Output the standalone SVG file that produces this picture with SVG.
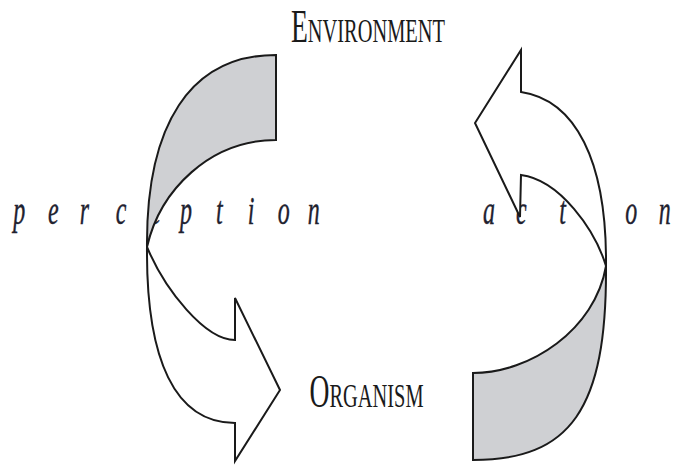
<svg xmlns="http://www.w3.org/2000/svg" width="679" height="468" viewBox="0 0 679 468">
<style>
.cap{font-family:"Liberation Serif","Times New Roman",serif;fill:#1a1a1a}
.lbl{font-family:"Liberation Serif","Times New Roman",serif;font-style:italic;font-size:40px;fill:#1f2230;stroke:#1f2230;stroke-width:0.4}
.band{stroke:#1a1a1a;stroke-width:2;stroke-linejoin:miter}
.gray{fill:#cfd0d3}
.white{fill:#ffffff}
</style>
<rect width="679" height="468" fill="#ffffff"/>
<g id="environment">
<text class="cap" x="485" y="42" transform="scale(0.6,1)"><tspan font-size="46">E</tspan><tspan font-size="34">NVIRONMENT</tspan></text>
</g>
<g id="organism">
<text class="cap" x="516" y="407" transform="scale(0.6,1)"><tspan font-size="46">O</tspan><tspan font-size="34">RGANISM</tspan></text>
</g>
<g id="connectors">
<g id="perception">
<text class="lbl" y="224" transform="scale(0.6,1)"><tspan x="22">p</tspan><tspan x="80">e</tspan><tspan x="133">r</tspan><tspan x="193">c</tspan><tspan x="250">e</tspan><tspan x="300">p</tspan><tspan x="360">t</tspan><tspan x="413">i</tspan><tspan x="463">o</tspan><tspan x="513">n</tspan></text>
<path class="band gray" d="M276,55 C190,55 146,125 147,247 C160,190 210,140 276,140 Z"/>
<path class="band white" d="M147,247 C146,360 175,423 235,423 L235,461 L280,390 L235,298 L235,340 C205,340 165,290 147,247 Z"/>
</g>
<g id="action">
<text class="lbl" y="224" transform="scale(0.6,1)"><tspan x="805">a</tspan><tspan x="860">c</tspan><tspan x="932">t</tspan><tspan x="988">i</tspan><tspan x="1042">o</tspan><tspan x="1098">n</tspan></text>
<path class="band white" d="M606,266 C607,160 575,100 521,92 L521,50 L475,123 L520,217 L521,175 C560,180 595,230 606,266 Z"/>
<path class="band gray" d="M606,266 C607,410 570,460 473,460 L473,373 C530,373 595,330 606,266 Z"/>
</g>
</g>
</svg>
